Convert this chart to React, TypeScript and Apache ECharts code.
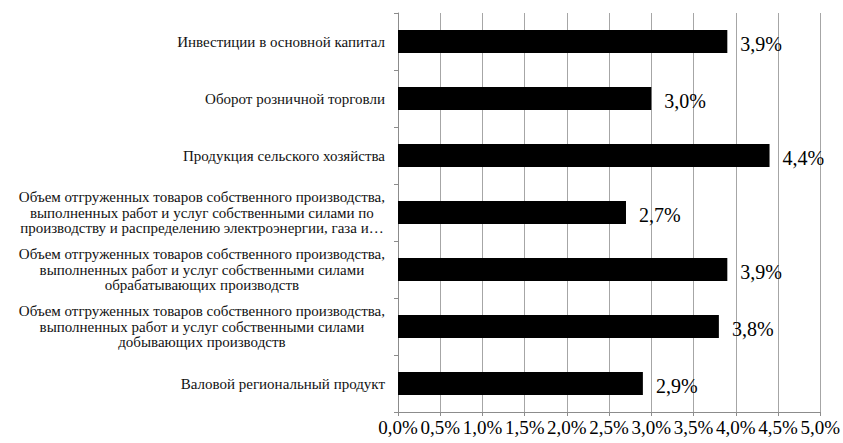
import React, { useEffect, useRef } from "react";
import * as echarts from "echarts";

const categories: string[] = [
  "Инвестиции в основной капитал",
  "Оборот розничной торговли",
  "Продукция сельского хозяйства",
  "Объем отгруженных товаров собственного производства,\nвыполненных работ и услуг собственными силами по\nпроизводству и распределению электроэнергии, газа и…",
  "Объем отгруженных товаров собственного производства,\nвыполненных работ и услуг собственными силами\nобрабатывающих производств",
  "Объем отгруженных товаров собственного производства,\nвыполненных работ и услуг собственными силами\nдобывающих производств",
  "Валовой региональный продукт",
];
const values: number[] = [3.9, 3.0, 4.4, 2.7, 3.9, 3.8, 2.9];
const axisMin = 0;
const axisMax = 5;
const axisStep = 0.5;

const FONT = '"Liberation Serif", "Times New Roman", serif';
const pct = (v: number) => v.toFixed(1).replace(".", ",") + "%";

export default function App() {
  const ref = useRef<HTMLDivElement>(null);
  useEffect(() => {
    if (!ref.current) return;
    document.body.style.margin = "0";
    const chart = echarts.init(ref.current, undefined, { renderer: "svg" });
    chart.setOption({
      animation: false,
      backgroundColor: "#fff",
      grid: { left: 398, right: 21, top: 13, bottom: 31, containLabel: false },
      xAxis: {
        type: "value",
        min: axisMin,
        max: axisMax,
        interval: axisStep,
        axisLine: { show: true, lineStyle: { color: "#8c8c8c", width: 1 } },
        axisTick: { show: true, length: 4, lineStyle: { color: "#8c8c8c" } },
        splitLine: { show: true, lineStyle: { color: "#a6a6a6", width: 1 } },
        axisLabel: {
          formatter: (v: number) => pct(v),
          fontFamily: FONT,
          fontSize: 19,
          color: "#000",
          margin: 6,
        },
      },
      yAxis: {
        type: "category",
        inverse: true,
        data: categories,
        axisLine: { show: true, lineStyle: { color: "#8c8c8c", width: 1 } },
        axisTick: { show: true, length: 4, lineStyle: { color: "#8c8c8c" } },
        splitLine: { show: false },
        axisLabel: {
          align: "right",
          margin: 13,
          fontFamily: FONT,
          fontSize: 15,
          color: "#111",
          lineHeight: 15.5,
          formatter: (v: string) =>
            v
              .split("\n")
              .map((l) => `{c|${l}}`)
              .join("\n"),
          rich: {
            c: {
              align: "center",
              fontFamily: FONT,
              fontSize: 15,
              color: "#111",
              lineHeight: 15.5,
            },
          },
        },
      },
      series: [
        {
          type: "bar",
          data: values,
          barWidth: 23,
          itemStyle: { color: "#000" },
          label: {
            show: true,
            position: "right",
            distance: 13,
            formatter: (p: any) => pct(p.value),
            fontFamily: FONT,
            fontSize: 20,
            color: "#000",
            offset: [0, 2],
          },
        },
      ],
    });
    return () => chart.dispose();
  }, []);
  return (
    <div
      ref={ref}
      style={{ position: "fixed", left: 0, top: 0, width: 843, height: 443 }}
    />
  );
}
